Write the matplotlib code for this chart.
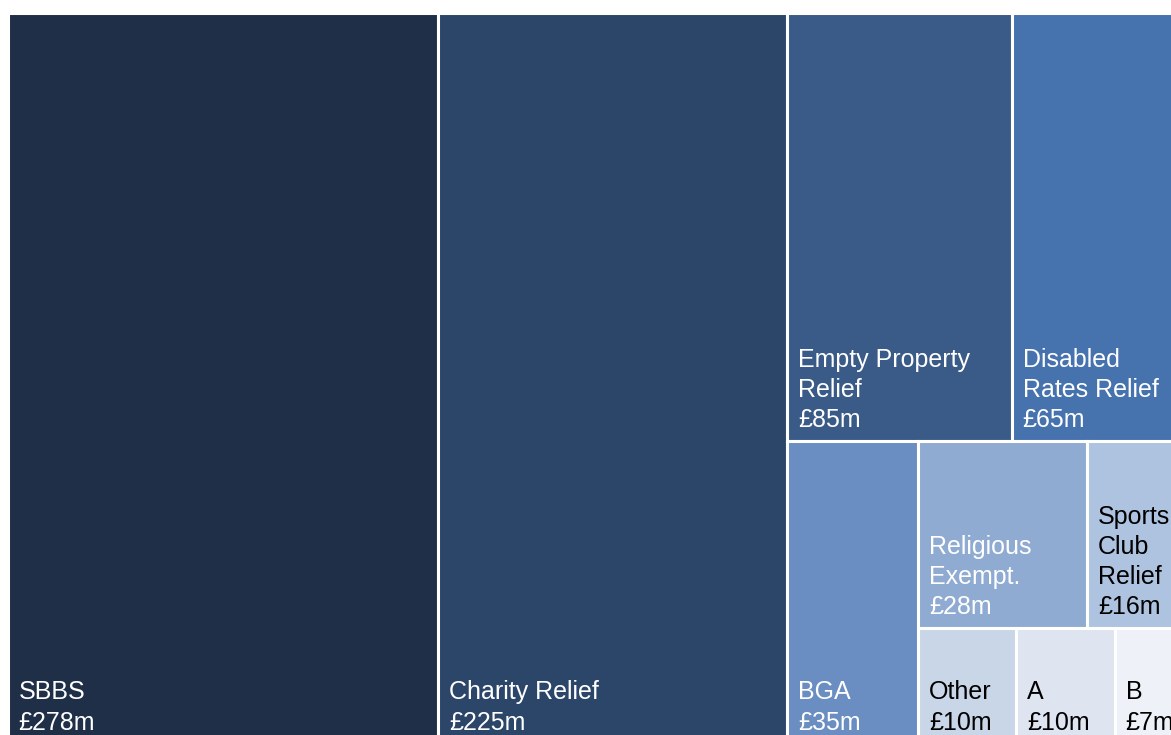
import matplotlib
matplotlib.use("Agg")
import matplotlib.pyplot as plt
from matplotlib.patches import Rectangle

# ---- data ----
names = ["SBBS", "Charity Relief", "Empty Property\nRelief", "Disabled\nRates Relief",
         "BGA", "Religious\nExempt.", "Sports\nClub\nRelief", "Other", "A", "B"]
values = [278, 225, 85, 65, 35, 28, 16, 10, 10, 7]
colors = ["#1F2F47", "#2C4669", "#3A5A87", "#4672AE", "#6A8EC2",
          "#8FABD2", "#ADC3DF", "#C9D6E8", "#DEE5F1", "#EEF2F8"]
text_colors = ["white"] * 6 + ["black"] * 4
# grouping of items into treemap rows (indices into values)
rows = [[0], [1], [2, 3], [4], [5, 6], [7], [8], [9]]

plt.rcParams["font.family"] = ["Liberation Sans", "DejaVu Sans"]

W, H = 1176.0, 731.0
fig = plt.figure(figsize=(11.71, 7.35), dpi=100)
ax = fig.add_axes([7.5 / 1171, (735 - 12.5 - H) / 735, W / 1171, H / 735])
ax.set_xlim(0, W)
ax.set_ylim(H, 0)
ax.axis("off")


def layout(vals, rows, x, y, dx, dy):
    total = float(sum(vals))
    rects = {}
    remaining = total
    for row in rows:
        s = sum(vals[i] for i in row)
        if dx >= dy:
            # vertical column at the left, items stacked top to bottom
            w = dx * s / remaining
            yy = y
            for i in row:
                h = dy * vals[i] / s
                rects[i] = (x, yy, w, h)
                yy += h
            x += w
            dx -= w
        else:
            # horizontal strip at the top, items side by side
            h = dy * s / remaining
            xx = x
            for i in row:
                w = dx * vals[i] / s
                rects[i] = (xx, y, w, h)
                xx += w
            y += h
            dy -= h
        remaining -= s
    return rects


rects = layout(values, rows, 0, 0, W, H)

for i, (name, v) in enumerate(zip(names, values)):
    x0, y0, w, h = rects[i]
    ax.add_patch(Rectangle((x0, y0), w, h, facecolor=colors[i],
                           edgecolor="white", linewidth=2.2))
    ax.annotate(f"{name}\n£{v}m", xy=(x0, y0 + h), xytext=(11, 9),
                textcoords="offset pixels", ha="left", va="bottom",
                fontsize=18, color=text_colors[i], linespacing=1.32,
                annotation_clip=False)

fig.savefig("out.png", dpi=100)
